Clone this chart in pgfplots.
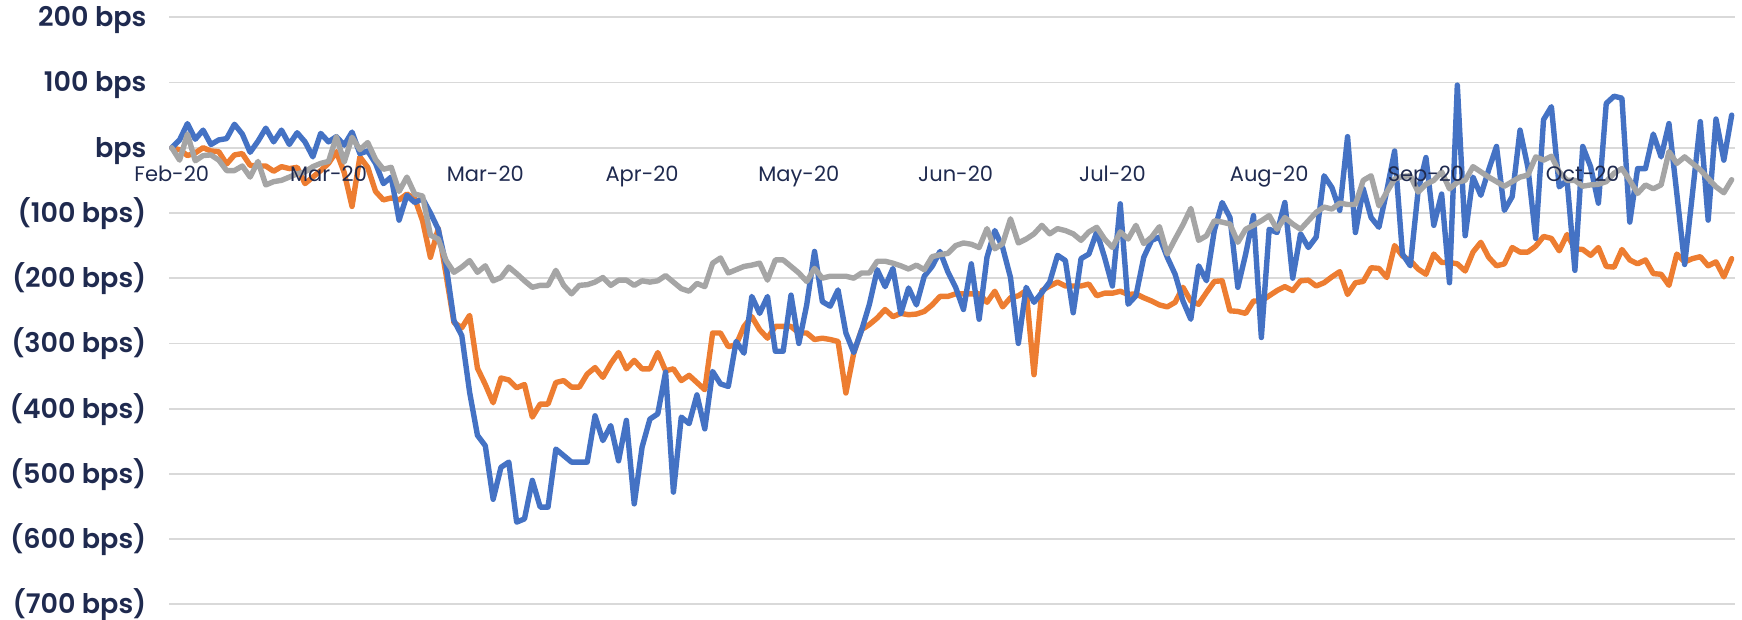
\documentclass[border=0pt]{standalone}
\usepackage{pgfplots}
\pgfplotsset{compat=1.18}
\usepackage{pgfplotstable}
\usepackage{fontspec}
\setmainfont{Poppins}
\IfFontExistsTF{Poppins SemiBold}{\newfontfamily\yfont{Poppins SemiBold}}{\newcommand\yfont{\bfseries}}
\definecolor{sblue}{HTML}{4472C4}
\definecolor{sorange}{HTML}{ED7D31}
\definecolor{sgray}{HTML}{A5A5A5}
\definecolor{labnavy}{HTML}{1F2A4F}
\definecolor{gridgray}{HTML}{D9D9D9}

\pgfplotsset{
  frame/.style={
    at={(84.7pt,7.85pt)}, anchor=south west,
    scale only axis, width=782.9pt, height=293.5pt,
    xmin=-0.3, xmax=199.45, ymin=-700, ymax=200,
    axis x line*=middle,
    axis line style={draw=none},
    hide obscured x ticks=false, hide obscured y ticks=false,
    major tick length=0pt,
    xtick={0,20,...,180},
  },
}

\pgfplotstableread{
i b o g
0 0 0 0
1 12 -3 -19
2 37 -12 21
3 13 -8 -20
4 27 0 -12
5 5 -5 -11
6 12 -6 -19
7 14 -25 -35
8 36 -11 -35
9 21 -9 -28
10 -7 -27 -45
11 10 -28 -21
12 30 -28 -57
13 9 -36 -52
14 27 -29 -50
15 5 -32 -45
16 23 -30 -40
17 9 -55 -37
18 -14 -45 -29
19 22 -35 -24
20 9 -24 -21
21 17 -6 17
22 4 -38 -22
23 24 -90 16
24 -9 -14 -3
25 -5 -30 8
26 -24 -67 -18
27 -55 -80 -33
28 -45 -77 -30
29 -111 -80 -67
30 -73 -71 -45
31 -84 -78 -71
32 -78 -112 -74
33 -100 -168 -134
34 -125 -124 -140
35 -180 -195 -173
36 -265 -268 -191
37 -288 -276 -183
38 -375 -257 -173
39 -441 -338 -191
40 -457 -363 -181
41 -539 -391 -204
42 -490 -353 -199
43 -482 -356 -183
44 -574 -368 -193
45 -569 -363 -204
46 -510 -413 -214
47 -551 -393 -211
48 -551 -393 -211
49 -462 -360 -188
50 -472 -357 -211
51 -482 -367 -224
52 -482 -367 -211
53 -482 -347 -210
54 -411 -337 -206
55 -449 -352 -199
56 -426 -331 -211
57 -480 -314 -203
58 -418 -339 -203
59 -546 -326 -211
60 -459 -339 -204
61 -416 -339 -206
62 -408 -314 -204
63 -344 -342 -196
64 -528 -339 -206
65 -413 -357 -216
66 -423 -349 -220
67 -379 -360 -208
68 -431 -371 -213
69 -343 -284 -177
70 -362 -284 -169
71 -366 -305 -192
72 -297 -302 -187
73 -315 -274 -182
74 -228 -259 -180
75 -254 -279 -177
76 -228 -292 -203
77 -312 -274 -172
78 -312 -274 -172
79 -226 -274 -182
80 -300 -284 -192
81 -241 -284 -205
82 -159 -294 -185
83 -236 -292 -200
84 -243 -294 -197
85 -218 -297 -197
86 -284 -376 -197
87 -314 -315 -200
88 -280 -279 -192
89 -240 -271 -192
90 -187 -261 -174
91 -213 -248 -174
92 -185 -259 -177
93 -254 -254 -181
94 -215 -256 -186
95 -241 -255 -180
96 -197 -251 -187
97 -182 -241 -167
98 -159 -228 -164
99 -190 -228 -162
100 -214 -224 -150
101 -248 -224 -146
102 -178 -224 -148
103 -263 -224 -153
104 -168 -237 -124
105 -127 -220 -155
106 -153 -244 -147
107 -199 -230 -109
108 -300 -227 -146
109 -214 -219 -140
110 -237 -348 -132
111 -222 -219 -119
112 -206 -212 -132
113 -165 -206 -124
114 -173 -212 -127
115 -253 -212 -132
116 -170 -212 -142
117 -163 -209 -129
118 -129 -227 -122
119 -168 -223 -140
120 -212 -223 -153
121 -86 -220 -129
122 -240 -225 -140
123 -227 -224 -119
124 -168 -230 -147
125 -142 -235 -137
126 -137 -241 -121
127 -168 -244 -163
128 -194 -237 -140
129 -235 -214 -118
130 -263 -235 -93
131 -181 -240 -142
132 -204 -222 -135
133 -127 -205 -112
134 -84 -204 -114
135 -107 -250 -117
136 -214 -251 -145
137 -163 -254 -125
138 -104 -235 -119
139 -291 -235 -112
140 -125 -227 -104
141 -130 -219 -125
142 -84 -213 -107
143 -200 -219 -117
144 -132 -204 -125
145 -153 -203 -112
146 -137 -212 -99
147 -43 -207 -91
148 -61 -198 -94
149 -96 -190 -85
150 17 -225 -87
151 -130 -207 -87
152 -63 -205 -50
153 -107 -184 -43
154 -122 -185 -89
155 -66 -199 -68
156 -5 -150 -48
157 -163 -166 -44
158 -181 -173 -43
159 -66 -186 -68
160 -15 -194 -56
161 -119 -163 -50
162 -71 -176 -37
163 -207 -176 -63
164 96 -178 -53
165 -135 -189 -50
166 -45 -160 -29
167 -73 -145 -37
168 -34 -168 -45
169 2 -181 -52
170 -96 -178 -59
171 -75 -153 -52
172 27 -160 -45
173 -30 -160 -42
174 -139 -151 -14
175 43 -136 -19
176 63 -139 -13
177 -60 -158 -37
178 -50 -133 -50
179 -188 -155 -50
180 2 -156 -59
181 -29 -165 -57
182 -85 -153 -56
183 68 -182 -52
184 79 -183 -39
185 76 -156 -32
186 -114 -172 -50
187 -32 -178 -70
188 -32 -172 -57
189 21 -193 -63
190 -14 -194 -57
191 37 -211 -6
192 -70 -163 -24
193 -179 -175 -14
194 -70 -170 -24
195 40 -167 -34
196 -111 -181 -47
197 44 -175 -60
198 -19 -198 -69
199 50 -170 -49
}\spreads

\begin{document}
\begin{tikzpicture}
\path[use as bounding box] (0,0) rectangle (871pt,310pt);
\begin{axis}[
  frame,
  xticklabels={},
  ytick={-700,-600,...,200},
  yticklabels={{(700 bps)},{(600 bps)},{(500 bps)},{(400 bps)},{(300 bps)},{(200 bps)},{(100 bps)},{bps},{100 bps},{200 bps}},
  yticklabel style={font=\yfont\fontsize{13.5}{15}\selectfont, text=labnavy, anchor=base east, xshift=-8pt, yshift=-4.7pt},
  ymajorgrids,
  grid style={draw=gridgray, line width=0.9pt},
  every axis plot/.append style={line width=2.7pt, line join=round, line cap=round, mark=none},
]
\addplot[color=sorange] table[x=i, y=o] {\spreads};
\addplot[color=sblue] table[x=i, y=b] {\spreads};
\addplot[color=sgray] table[x=i, y=g] {\spreads};
\end{axis}
\begin{axis}[
  frame,
  ytick=\empty,
  xticklabels={Feb-20,Mar-20,Mar-20,Apr-20,May-20,Jun-20,Jul-20,Aug-20,Sep-20,Oct-20},
  xticklabel style={font=\fontsize{10.5}{12}\selectfont, text=labnavy, anchor=base, yshift=-17pt},
]
\end{axis}
\end{tikzpicture}
\end{document}
